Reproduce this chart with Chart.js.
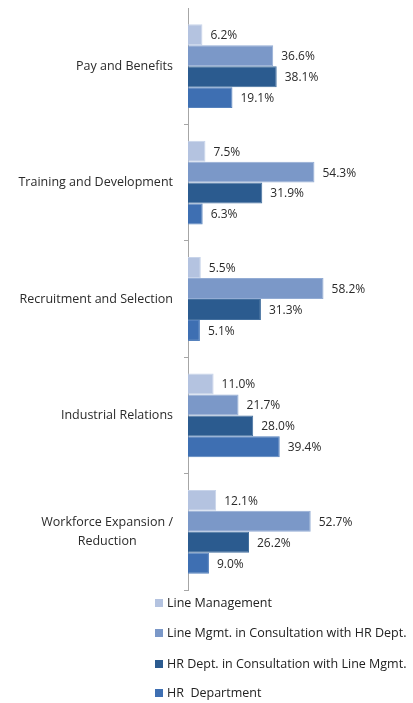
<!DOCTYPE html>
<html>
<head>
<meta charset="utf-8">
<script src="https://cdn.jsdelivr.net/npm/chart.js@4"></script>
<style>
  html, body { margin: 0; padding: 0; background: #fff; }
  #wrap { position: relative; width: 413px; height: 703px; }
  #c { position: absolute; left: 0; top: 0; }
  #legend { position: absolute; left: 155px; top: 594px; font-family: "Open Sans", sans-serif; font-size: 12.5px; color: #222; }
  .item { position: absolute; left: 0; height: 18px; line-height: 18px; white-space: pre; }
  .box { position: absolute; left: 0; top: 5px; width: 8px; height: 8px; }
  .txt { position: absolute; left: 12px; top: 0; white-space: pre; }
</style>
</head>
<body>
<div id="wrap">
  <canvas id="c" width="413" height="596"></canvas>
  <div id="legend"></div>
</div>
<script>
const categories = [
  "Pay and Benefits",
  "Training and Development",
  "Recruitment and Selection",
  "Industrial Relations",
  ["Workforce Expansion /", "Reduction"]
];
const seriesNames = [
  "Line Management",
  "Line Mgmt. in Consultation with HR Dept.",
  "HR Dept. in Consultation with Line Mgmt.",
  "HR  Department"
];
const lineManagement      = [6.2, 7.5, 5.5, 11.0, 12.1];
const lineMgmtConsultHR   = [36.6, 54.3, 58.2, 21.7, 52.7];
const hrConsultLineMgmt   = [38.1, 31.9, 31.3, 28.0, 26.2];
const hrDepartment        = [19.1, 6.3, 5.1, 39.4, 9.0];
const seriesColors = ["#b4c3e0", "#7b98c8", "#2b5b8f", "#3e6fb2"];
const seriesBorders = ["#c8d4ea", "#93acd4", "#44709f", "#5682bd"];
const seriesValues = [lineManagement, lineMgmtConsultHR, hrConsultLineMgmt, hrDepartment];

const FONT = '"Open Sans", sans-serif';

const labelPlugin = {
  id: 'customLabels',
  afterDatasetsDraw(chart) {
    const ctx = chart.ctx;
    ctx.save();
    // value labels
    ctx.font = '12px ' + FONT;
    ctx.fillStyle = '#2a2a2a';
    ctx.textAlign = 'left';
    ctx.textBaseline = 'middle';
    chart.data.datasets.forEach((ds, di) => {
      const meta = chart.getDatasetMeta(di);
      meta.data.forEach((bar, i) => {
        const v = ds.data[i];
        ctx.fillText(v.toFixed(1) + '%', bar.x + 8, bar.y + 1);
      });
    });
    // category labels
    const y = chart.scales.y;
    ctx.font = '12.5px ' + FONT;
    ctx.fillStyle = '#2a2a2a';
    ctx.textAlign = 'center';
    const rightEdge = y.right - 15;
    chart.data.labels.forEach((lab, i) => {
      const lines = Array.isArray(lab) ? lab : [lab];
      const w = Math.max(...lines.map(l => ctx.measureText(l).width));
      const cx = rightEdge - w / 2;
      const cy = y.getPixelForTick(i);
      const lh = 19;
      lines.forEach((l, k) => {
        ctx.fillText(l, cx, cy + (k - (lines.length - 1) / 2) * lh);
      });
    });
    ctx.restore();
  }
};

new Chart(document.getElementById('c'), {
  type: 'bar',
  data: {
    labels: categories,
    datasets: seriesNames.map((n, i) => ({
      label: n,
      data: seriesValues[i],
      backgroundColor: seriesColors[i],
      borderColor: seriesBorders[i],
      borderWidth: 1,
      categoryPercentage: 0.72,
      barPercentage: 1.0
    }))
  },
  options: {
    indexAxis: 'y',
    responsive: false,
    animation: false,
    layout: { padding: { top: 8, bottom: 6, left: 0, right: 62 } },
    plugins: { legend: { display: false }, tooltip: { enabled: false } },
    scales: {
      x: { display: false, min: 0, max: 70 },
      y: {
        position: 'left',
        afterFit(s) { s.width = 188; },
        ticks: { display: false },
        border: { display: true, color: '#a6a6a6', width: 1 },
        grid: {
          display: true,
          drawOnChartArea: false,
          drawTicks: true,
          tickLength: 4,
          offset: true,
          color: (c) => c.index === 0 ? 'rgba(0,0,0,0)' : '#a6a6a6'
        }
      }
    }
  },
  plugins: [labelPlugin]
});

const legend = document.getElementById('legend');
const rowTops = [0, 30, 61, 90];
seriesNames.forEach((n, i) => {
  const it = document.createElement('div');
  it.className = 'item';
  it.style.top = rowTops[i] + 'px';
  const b = document.createElement('span');
  b.className = 'box';
  b.style.background = seriesColors[i];
  const t = document.createElement('span');
  t.className = 'txt';
  t.textContent = n;
  it.appendChild(b); it.appendChild(t);
  legend.appendChild(it);
});
</script>
</body>
</html>
